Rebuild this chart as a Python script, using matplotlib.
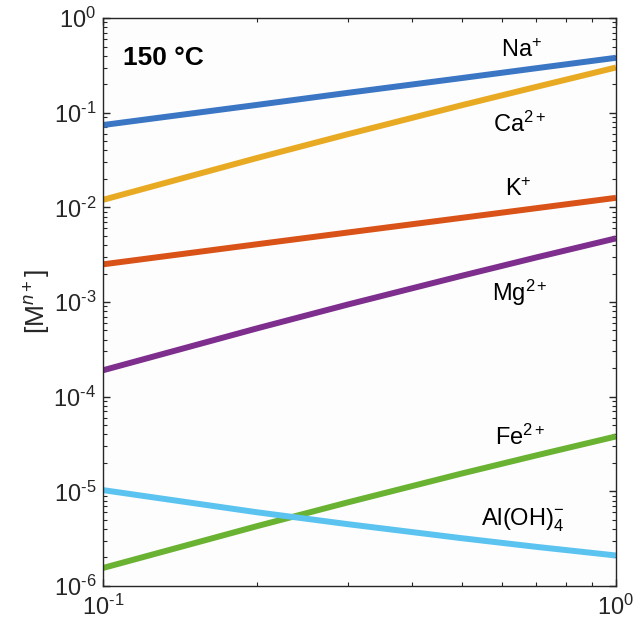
import numpy as np
import matplotlib
matplotlib.use("Agg")
import matplotlib.pyplot as plt
from matplotlib.ticker import FuncFormatter, NullFormatter

plt.rcParams['font.family'] = ['Liberation Sans', 'DejaVu Sans']
plt.rcParams['mathtext.fontset'] = 'custom'
plt.rcParams['mathtext.rm'] = 'Liberation Sans'
plt.rcParams['mathtext.it'] = 'Liberation Sans:italic'
plt.rcParams['mathtext.bf'] = 'Liberation Sans:bold'

# concentration vs x
x = [0.1, 0.2, 0.3, 0.5, 0.7, 1.0]
na = [0.074, 0.121, 0.162, 0.232, 0.295, 0.38]
ca = [0.012, 0.0333, 0.0592, 0.1197, 0.1875, 0.30]
k = [2.5e-3, 4.08e-3, 5.42e-3, 7.74e-3, 9.8e-3, 0.0126]
mg = [1.9e-4, 5.28e-4, 9.4e-4, 1.89e-3, 2.96e-3, 4.7e-3]
fe = [1.55e-6, 4.3e-6, 7.64e-6, 1.54e-5, 2.4e-5, 3.8e-5]
al = [1.03e-5, 6.0e-6, 4.5e-6, 3.2e-6, 2.59e-6, 2.1e-6]

series = [
    (na, '#3a76c4', r'Na$^{+}$', (0.656, 0.449)),
    (ca, '#e8aa22', r'Ca$^{2+}$', (0.650, 0.076)),
    (k, '#d95319', r'K$^{+}$', (0.644, 0.0156)),
    (mg, '#7e2f8e', r'Mg$^{2+}$', (0.650, 1.25e-3)),
    (fe, '#6ab232', r'Fe$^{2+}$', (0.650, 3.76e-5)),
    (al, '#5bc3ef', r'Al(OH)$_4^{-}$', (0.659, 5.0e-6)),
]


def pow10(v, pos):
    e = int(round(np.log10(v)))
    return r'10$^{\text{%d}}$' % e


fig = plt.figure(figsize=(6.34, 6.32), dpi=100)
ax = fig.add_axes([0.1625, 0.0728, 0.809, 0.8987])
ax.set_facecolor('#fdfdfd')

for vals, col, lab, pos in series:
    ax.plot(x, vals, color=col, lw=4.3, solid_capstyle='butt')
    ax.text(pos[0], pos[1], lab, fontsize=17, ha='center', va='center', color='black')

ax.text(0.1094, 0.378, '150 °C', fontsize=19, fontweight='bold', ha='left', va='center')

ax.set_xscale('log')
ax.set_yscale('log')
ax.set_xlim(0.1, 1)
ax.set_ylim(1e-6, 1)
ax.set_xticks([0.1, 1])
ax.set_yticks([1e-6, 1e-5, 1e-4, 1e-3, 1e-2, 1e-1, 1])
ax.xaxis.set_major_formatter(FuncFormatter(pow10))
ax.yaxis.set_major_formatter(FuncFormatter(pow10))
ax.xaxis.set_minor_formatter(NullFormatter())
ax.yaxis.set_minor_formatter(NullFormatter())

grey = '#262626'
for s in ax.spines.values():
    s.set_color(grey)
    s.set_linewidth(1.0)
ax.tick_params(which='both', direction='in', top=True, right=True, colors=grey,
               labelsize=17)
ax.tick_params(which='major', length=5, width=1)
ax.tick_params(which='minor', length=3, width=0.8)
ax.tick_params(axis='x', pad=6)
ax.tick_params(axis='y', pad=5)

ax.set_ylabel(r'[M$^{\it{n}+}$]', fontsize=19, color=grey, labelpad=0)

fig.savefig('out.png', dpi=100)
